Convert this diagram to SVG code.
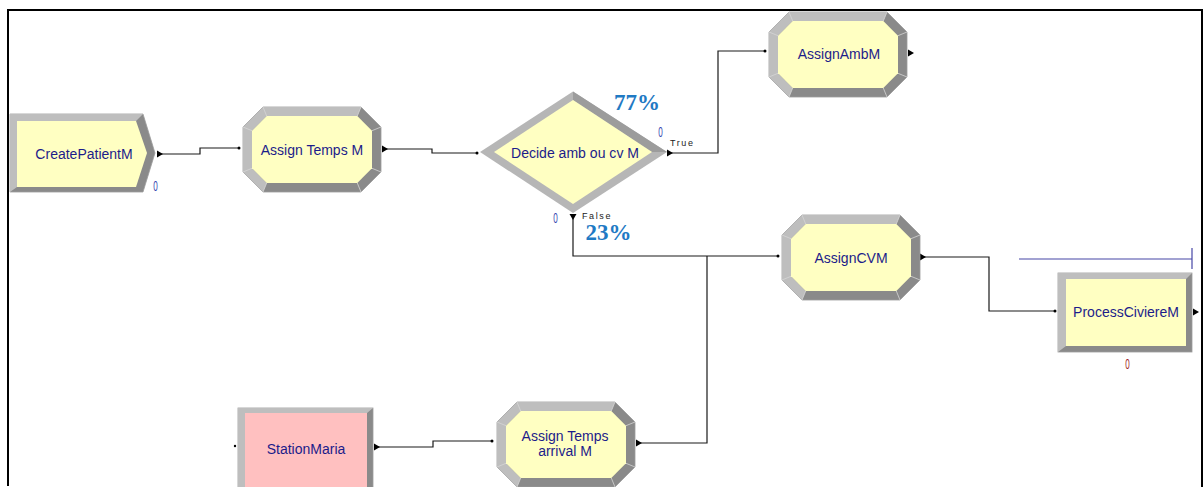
<svg xmlns="http://www.w3.org/2000/svg" xmlns:xlink="http://www.w3.org/1999/xlink" width="1204" height="487" viewBox="0 0 1204 487">
  <style>
    .lbl{font-family:"Liberation Sans",Arial,sans-serif;font-size:14px;fill:#1c1c8a;text-anchor:middle}
    .cnt{font-family:"Liberation Sans",Arial,sans-serif;font-size:15px;fill:#3646b0;text-anchor:middle}
    .pct{font-family:"Liberation Serif","Times New Roman",serif;font-size:23px;font-weight:bold;fill:#1f7ac4;text-anchor:middle}
    .tf{font-family:"Liberation Sans",Arial,sans-serif;font-size:9px;fill:#222;letter-spacing:1.6px}
    .dark{fill:#8a8a8a}
    .light{fill:#bebebe}
    .yel{fill:#ffffc2}
    .conn{fill:none;stroke:#1a1a1a;stroke-width:1.2}
    .tri{fill:#000}
    .frame{fill:none;stroke:#000;stroke-width:2}
  </style>
  <defs>
    <marker id="exit" markerUnits="userSpaceOnUse" markerWidth="8" markerHeight="8" refX="0" refY="4" orient="auto" overflow="visible">
      <path d="M0,0.5 L6,4 L0,7.5 z" fill="#000"/>
    </marker>
    <marker id="entry" markerUnits="userSpaceOnUse" markerWidth="4" markerHeight="4" refX="2" refY="2" orient="auto" overflow="visible">
      <circle cx="2" cy="2" r="1.5" fill="#000"/>
    </marker>
    <g id="assignShape">
      <polygon class="dark" points="20,0 118,0 138,20 138,65 118,85 20,85 0,65 0,20" stroke="#9c9c9c" stroke-width="0.8"/>
      <polygon class="light" points="20,85 0,65 0,20 20,0 118,0 114.3,9 23.7,9 9,23.7 9,61.3 23.7,76"/>
      <polygon class="yel" points="23.7,9 114.3,9 129,23.7 129,61.3 114.3,76 23.7,76 9,61.3 9,23.7"/>
      <g stroke="#d6d6d6" stroke-width="0.8">
        <line x1="20" y1="0" x2="23.7" y2="9"/>
        <line x1="0" y1="20" x2="9" y2="23.7"/>
        <line x1="118" y1="0" x2="114.3" y2="9"/>
        <line x1="138" y1="20" x2="129" y2="23.7"/>
        <line x1="138" y1="65" x2="129" y2="61.3"/>
        <line x1="118" y1="85" x2="114.3" y2="76"/>
        <line x1="20" y1="85" x2="23.7" y2="76"/>
        <line x1="0" y1="65" x2="9" y2="61.3"/>
      </g>
    </g>
  </defs>

  <rect width="1204" height="487" fill="#fff"/>
  <path class="frame" d="M8,486 V10 H1202 V487"/>

  <g id="connectors">
    <path class="conn" d="M157,154 H200 V148 H239" marker-start="url(#exit)" marker-end="url(#entry)"/>
    <path class="conn" d="M382,149 H432 V153 H477" marker-start="url(#exit)" marker-end="url(#entry)"/>
    <path class="conn" d="M667,153 H718 V51 H765" marker-start="url(#exit)" marker-end="url(#entry)"/>
    <path class="conn" d="M573,214 V256 H778" marker-start="url(#exit)" marker-end="url(#entry)"/>
    <path class="conn" d="M920,257 H989 V311 H1055" marker-start="url(#exit)" marker-end="url(#entry)"/>
    <path class="conn" d="M374,447 H433 V441 H492" marker-start="url(#exit)" marker-end="url(#entry)"/>
    <path class="conn" d="M636,443 H707 V256"/>
    <polygon class="tri" points="636,439.5 642,443 636,446.5"/>
    <polygon class="tri" points="908,49.5 914,53 908,56.5"/>
    <polygon class="tri" points="1193,308.5 1199,312 1193,315.5"/>
    <circle cx="235" cy="446" r="1.2" fill="#000"/>
    <path d="M1019,259 H1192 M1192,248 V269" fill="none" stroke="#4646a6" stroke-width="1.2"/>
  </g>

  <g id="CreatePatientM">
    <polygon class="dark" points="10,114 143,114 155,153 143,192 10,192" stroke="#9c9c9c" stroke-width="0.8"/>
    <polygon class="light" points="10,192 10,114 143,114 136,121 17,121 17,187"/>
    <polygon class="yel" points="17,121 136,121 147,153 136,187 17,187"/>
    <text class="lbl" x="84" y="159">CreatePatientM</text>
    <text class="cnt" x="155.5" y="191" textLength="4.5" lengthAdjust="spacingAndGlyphs">0</text>
  </g>

  <g id="AssignTempsM">
    <use xlink:href="#assignShape" href="#assignShape" x="243" y="107"/>
    <text class="lbl" x="312" y="155">Assign Temps M</text>
  </g>

  <g id="DecideAmbOuCvM">
    <polygon fill="#b6b6b6" points="480,152 573,91.5 667,152 573,213"/>
    <polygon fill="#9c9c9c" points="573,91.5 667,152 652,152 573,100"/>
    <polygon class="yel" points="494,152 573,100 652,152 573,204"/>
    <text class="lbl" x="575" y="158" textLength="128" lengthAdjust="spacingAndGlyphs">Decide amb ou cv M</text>
    <text class="pct" x="637" y="110">77%</text>
    <text class="pct" x="608.5" y="240">23%</text>
    <text class="cnt" x="660.5" y="136.5" textLength="4.5" lengthAdjust="spacingAndGlyphs">0</text>
    <text class="cnt" x="555.5" y="223" textLength="4.5" lengthAdjust="spacingAndGlyphs">0</text>
    <text class="tf" x="670" y="145.5">True</text>
    <text class="tf" x="582" y="219">False</text>
  </g>

  <g id="AssignAmbM">
    <use xlink:href="#assignShape" href="#assignShape" x="769" y="12"/>
    <text class="lbl" x="839" y="59">AssignAmbM</text>
  </g>

  <g id="AssignCVM">
    <use xlink:href="#assignShape" href="#assignShape" x="782" y="215"/>
    <text class="lbl" x="851" y="263">AssignCVM</text>
  </g>

  <g id="ProcessCiviereM">
    <rect class="dark" x="1058" y="273" width="134" height="79" stroke="#9c9c9c" stroke-width="0.8"/>
    <polygon class="light" points="1058,352 1058,273 1192,273 1186,279 1066,279 1066,346"/>
    <rect class="yel" x="1066" y="279" width="120" height="67"/>
    <text class="lbl" x="1126" y="317">ProcessCiviereM</text>
    <text class="cnt" x="1127.5" y="369" textLength="4.5" lengthAdjust="spacingAndGlyphs" style="fill:#a02424">0</text>
  </g>

  <g id="StationMaria">
    <rect class="dark" x="238" y="408" width="135" height="85" stroke="#9c9c9c" stroke-width="0.8"/>
    <polygon class="light" points="238,493 238,408 373,408 367,413 245,413 245,493"/>
    <rect x="245" y="413" width="122" height="80" fill="#ffc0c0"/>
    <text class="lbl" x="306" y="454">StationMaria</text>
  </g>

  <g id="AssignTempsArrivalM">
    <use xlink:href="#assignShape" href="#assignShape" x="497" y="402"/>
    <text class="lbl" x="565" y="440.5">Assign Temps</text>
    <text class="lbl" x="565" y="455.5">arrival M</text>
  </g>
</svg>
